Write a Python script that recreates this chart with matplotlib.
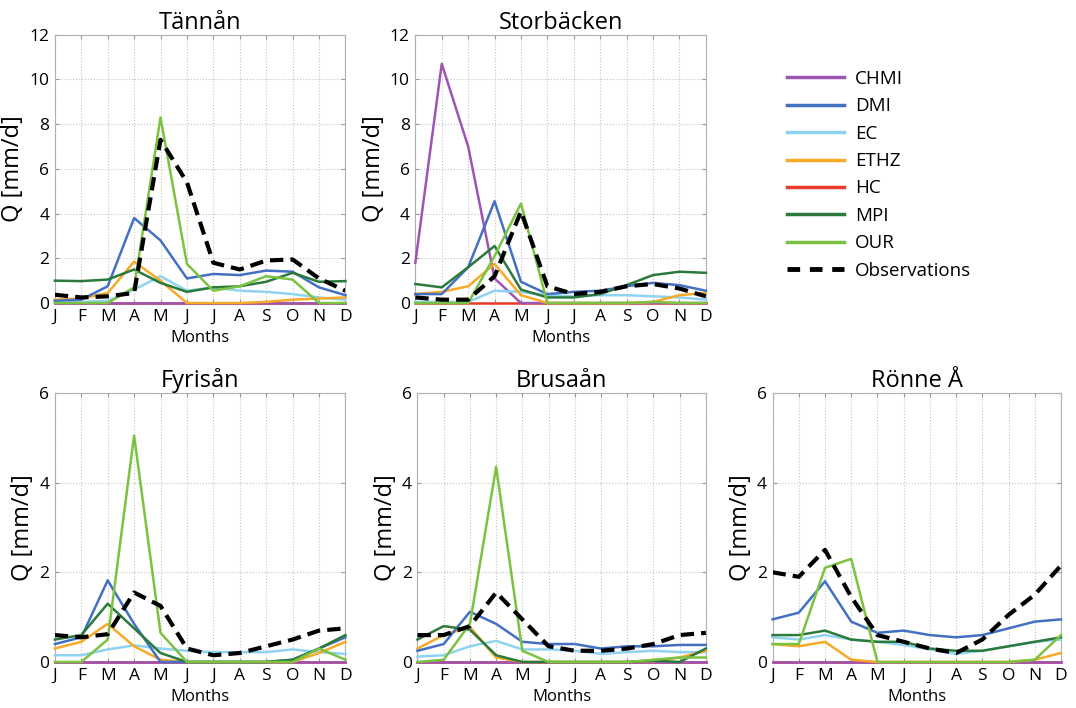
import matplotlib
matplotlib.use("Agg")
import matplotlib.pyplot as plt

plt.rcParams["font.family"] = ["Open Sans", "DejaVu Sans"]

months = ["J", "F", "M", "A", "M", "J", "J", "A", "S", "O", "N", "D"]
models = ["CHMI", "DMI", "EC", "ETHZ", "HC", "MPI", "OUR"]
colors = {"CHMI": "#9c55b3", "DMI": "#4470c4", "EC": "#8fd3f0", "ETHZ": "#f7a928",
          "HC": "#e8392b", "MPI": "#2b7a3c", "OUR": "#7cc242"}

zero = [0] * 12

# Tännån
tannan = {
    "CHMI": zero,
    "DMI": [0.1, 0.15, 0.75, 3.8, 2.8, 1.1, 1.3, 1.25, 1.45, 1.4, 0.7, 0.35],
    "EC": [0.05, 0.05, 0.1, 0.6, 1.2, 0.55, 0.7, 0.55, 0.5, 0.4, 0.25, 0.15],
    "ETHZ": [0.15, 0.2, 0.45, 1.85, 1.0, 0.0, 0.0, 0.0, 0.05, 0.15, 0.2, 0.25],
    "HC": zero,
    "MPI": [1.0, 0.98, 1.05, 1.5, 0.9, 0.5, 0.7, 0.75, 0.95, 1.35, 0.95, 0.98],
    "OUR": [0, 0, 0, 0.7, 8.3, 1.75, 0.55, 0.75, 1.2, 1.05, 0, 0],
}
tannan_obs = [0.37, 0.25, 0.3, 0.45, 7.3, 5.4, 1.8, 1.5, 1.9, 1.95, 1.1, 0.55]

# Storbäcken
storbacken = {
    "CHMI": [1.8, 10.7, 7.0, 1.1, 0, 0, 0, 0, 0, 0, 0, 0],
    "DMI": [0.4, 0.4, 1.6, 4.55, 0.95, 0.4, 0.5, 0.55, 0.75, 0.9, 0.8, 0.55],
    "EC": [0.05, 0.05, 0.05, 0.55, 0.5, 0.35, 0.3, 0.35, 0.35, 0.3, 0.25, 0.15],
    "ETHZ": [0.4, 0.5, 0.75, 1.75, 0.35, 0, 0, 0, 0, 0.05, 0.35, 0.45],
    "HC": zero,
    "MPI": [0.85, 0.7, 1.6, 2.55, 0.6, 0.25, 0.25, 0.4, 0.8, 1.25, 1.4, 1.35],
    "OUR": [0, 0, 0, 2.1, 4.45, 0, 0, 0, 0, 0.05, 0, 0],
}
storbacken_obs = [0.25, 0.15, 0.15, 1.2, 4.1, 0.75, 0.4, 0.5, 0.75, 0.85, 0.65, 0.3]

# Fyrisån
fyrisan = {
    "CHMI": zero,
    "DMI": [0.4, 0.55, 1.82, 0.85, 0, 0, 0, 0, 0, 0.05, 0.3, 0.55],
    "EC": [0.15, 0.15, 0.28, 0.37, 0.3, 0.25, 0.22, 0.22, 0.22, 0.28, 0.22, 0.18],
    "ETHZ": [0.3, 0.45, 0.85, 0.35, 0.05, 0, 0, 0, 0, 0, 0.2, 0.45],
    "HC": zero,
    "MPI": [0.5, 0.6, 1.3, 0.75, 0.2, 0, 0, 0, 0, 0.05, 0.3, 0.6],
    "OUR": [0, 0, 0.5, 5.05, 0.65, 0, 0, 0, 0, 0, 0.3, 0.05],
}
fyrisan_obs = [0.6, 0.55, 0.62, 1.55, 1.25, 0.3, 0.15, 0.2, 0.35, 0.5, 0.7, 0.75]

# Brusaån
brusaan = {
    "CHMI": zero,
    "DMI": [0.25, 0.4, 1.12, 0.85, 0.45, 0.4, 0.4, 0.3, 0.35, 0.35, 0.38, 0.38],
    "EC": [0.12, 0.15, 0.35, 0.47, 0.28, 0.28, 0.25, 0.18, 0.22, 0.25, 0.22, 0.22],
    "ETHZ": [0.3, 0.6, 0.78, 0.1, 0, 0, 0, 0, 0, 0.02, 0.1, 0.25],
    "HC": zero,
    "MPI": [0.5, 0.8, 0.72, 0.15, 0, 0, 0, 0, 0, 0.03, 0, 0.3],
    "OUR": [0, 0.05, 0.85, 4.35, 0.25, 0, 0, 0, 0, 0.05, 0.1, 0.1],
}
brusaan_obs = [0.6, 0.6, 0.8, 1.55, 0.95, 0.35, 0.25, 0.25, 0.3, 0.4, 0.6, 0.65]

# Rönne Å
ronne = {
    "CHMI": zero,
    "DMI": [0.95, 1.1, 1.8, 0.9, 0.65, 0.7, 0.6, 0.55, 0.6, 0.75, 0.9, 0.95],
    "EC": [0.55, 0.5, 0.6, 0.5, 0.45, 0.38, 0.28, 0.18, 0.25, 0.35, 0.45, 0.5],
    "ETHZ": [0.4, 0.35, 0.45, 0.05, 0, 0, 0, 0, 0, 0, 0.05, 0.2],
    "HC": zero,
    "MPI": [0.6, 0.6, 0.7, 0.5, 0.45, 0.45, 0.3, 0.25, 0.25, 0.35, 0.45, 0.55],
    "OUR": [0.4, 0.4, 2.1, 2.3, 0, 0, 0, 0, 0, 0, 0.05, 0.6],
}
ronne_obs = [2.0, 1.9, 2.5, 1.45, 0.6, 0.45, 0.3, 0.2, 0.5, 1.05, 1.5, 2.15]

panels = [
    ("Tännån", tannan, tannan_obs, 12, [0.051, 0.572, 0.270, 0.379]),
    ("Storbäcken", storbacken, storbacken_obs, 12, [0.386, 0.572, 0.270, 0.379]),
    ("Fyrisån", fyrisan, fyrisan_obs, 6, [0.051, 0.065, 0.270, 0.380]),
    ("Brusaån", brusaan, brusaan_obs, 6, [0.388, 0.065, 0.268, 0.380]),
    ("Rönne Å", ronne, ronne_obs, 6, [0.718, 0.065, 0.268, 0.380]),
]

obs_dash = (0, (3.2, 1.7))

fig = plt.figure(figsize=(10.76, 7.08), dpi=100)
x = list(range(12))

for title, data, obs, ymax, pos in panels:
    ax = fig.add_axes(pos)
    draw_order = ["HC", "CHMI", "EC", "ETHZ", "DMI", "MPI", "OUR"]
    for m in draw_order:
        ax.plot(x, data[m], color=colors[m], lw=1.8, label=m, clip_on=False,
                zorder=3)
    ax.plot(x, obs, color="black", lw=3, ls=obs_dash, label="Observations",
            zorder=4)
    ax.set_xlim(0, 11)
    ax.set_ylim(0, ymax)
    ax.set_xticks(x)
    ax.set_xticklabels(months)
    ax.set_yticks(range(0, ymax + 1, 2))
    ax.grid(True, color="#c4c4c4", ls=":", lw=0.8)
    ax.tick_params(direction="in", length=3, labelsize=12.5, color="#999999",
                   top=True, right=True, pad=4)
    for s in ax.spines.values():
        s.set_color("#b0b0b0")
    ax.set_title(title, fontsize=17, pad=4)
    ax.set_xlabel("Months", fontsize=12, labelpad=4)
    ax.set_ylabel("Q [mm/d]", fontsize=17, labelpad=3)

handles = []
labels = []
for m in models:
    handles.append(plt.Line2D([], [], color=colors[m], lw=2.5))
    labels.append(m)
handles.append(plt.Line2D([], [], color="black", lw=3.5, ls=(0, (2.6, 2.0))))
labels.append("Observations")
fig.legend(handles, labels, loc="upper left", bbox_to_anchor=(0.716, 0.925),
           frameon=False, fontsize=13.5, handlelength=3.0, labelspacing=0.5,
           handletextpad=0.6)

fig.savefig("out.png", dpi=100)
